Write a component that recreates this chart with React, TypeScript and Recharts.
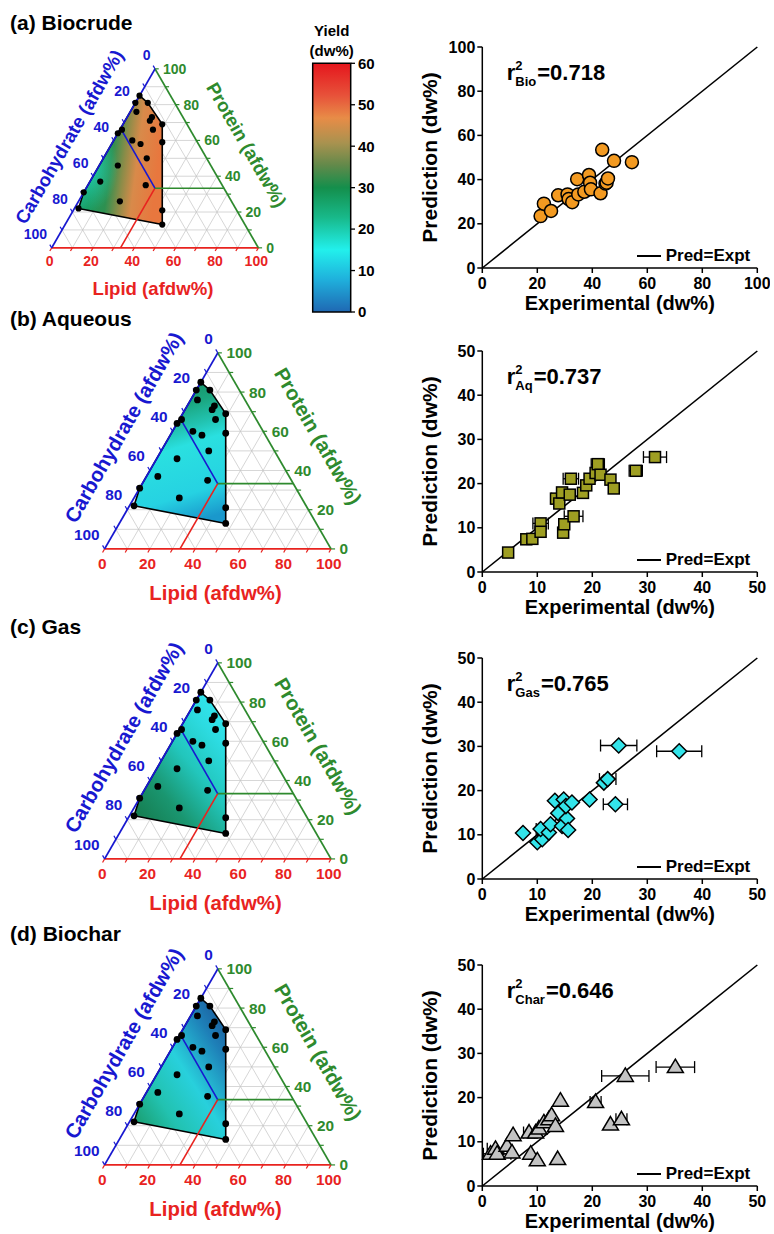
import React from 'react';
import { ScatterChart, Scatter, XAxis, YAxis, ErrorBar, Legend, BarChart, Bar } from 'recharts';

const FONT = "Arial, 'Liberation Sans', Helvetica, sans-serif";
const RED = '#e8231f';
const BLUE = '#1818d0';
const GREEN = '#2e8a2e';
const GRID = '#c4c4c4';

// feedstock compositions (afdw%), same design points in every ternary plot
const lipidPct = [0, 6, 0, 3, 12, 12, 19, 16, 1, 0, 9, 14, 24, 21, 9, 5, 28, 0, 20, 2, 43, 47];
const proteinPct = [85, 81, 81, 76, 73, 71, 69, 66, 66, 64, 60, 58, 59, 50, 46, 37, 35, 31, 26, 22, 21, 13];
const carbPct = [15, 13, 19, 21, 15, 17, 12, 18, 33, 36, 31, 28, 17, 29, 45, 58, 37, 69, 54, 76, 36, 40];
// outline of the explored composition space (indices into the lists above)
const hullOrder = [0, 1, 6, 12, 20, 21, 19, 17, 9, 2];
const ternLabels = [0, 20, 40, 60, 80, 100];
const ternGrid = [10, 20, 30, 40, 50, 60, 70, 80, 90];
const ternTicks = [0, 10, 20, 30, 40, 50, 60, 70, 80, 90, 100];
const splitPct = 33.3;

// parity plots: experimental vs predicted yield (dw%)
const bioExp = [21.2, 22.4, 25.0, 27.6, 31.0, 31.4, 32.7, 34.5, 34.9, 37.1, 38.8, 39.2, 39.5, 43.0, 43.6, 44.8, 45.2, 45.7, 47.9, 54.4];
const bioPred = [23.5, 29.1, 25.8, 32.9, 33.3, 31.2, 29.8, 40.2, 33.3, 34.5, 42.1, 38.6, 35.6, 33.8, 53.5, 38.2, 38.6, 40.5, 48.5, 47.9];

const aqExp = [4.7, 8.0, 9.1, 10.6, 10.6, 13.4, 14.0, 14.5, 14.7, 14.9, 16.1, 15.9, 16.6, 18.3, 18.9, 19.5, 20.6, 21.0, 21.5, 23.3, 23.9, 27.9, 31.4];
const aqPred = [4.4, 7.4, 7.5, 11.0, 9.1, 16.6, 15.5, 18.0, 8.9, 10.8, 21.1, 17.5, 12.6, 17.9, 19.6, 21.1, 22.4, 24.4, 22.0, 20.9, 18.9, 22.9, 26.0];
const aqErr = [0, 0, 0, 1.4, 0, 0.8, 0, 0, 0, 0, 1.4, 0, 1.7, 0, 0, 0, 0, 1.2, 0, 0, 0, 1.2, 2.1];

const gasExp = [7.4, 10.0, 10.9, 10.6, 12.1, 12.4, 13.2, 13.8, 14.5, 14.8, 15.4, 15.6, 15.2, 16.3, 19.5, 22.1, 22.8, 24.2, 24.8, 35.8];
const gasPred = [10.4, 8.3, 9.0, 11.3, 10.5, 12.4, 17.7, 14.9, 12.0, 18.0, 13.7, 11.1, 16.5, 17.3, 18.0, 21.8, 22.6, 16.9, 30.2, 28.9];
const gasErr = [0, 0, 0, 0.8, 0, 0, 0, 0, 0, 0, 0, 0, 0, 0, 0, 0, 1.5, 2.2, 3.3, 4.1];

const charExp = [1.5, 2.4, 2.7, 4.5, 5.4, 5.6, 8.5, 8.8, 10.0, 9.7, 10.3, 11.2, 12.1, 12.6, 13.3, 13.7, 14.2, 20.6, 23.3, 25.3, 26.0, 35.1];
const charPred = [7.3, 8.4, 7.3, 9.1, 7.6, 11.5, 12.1, 7.3, 5.8, 12.1, 13.0, 14.4, 15.1, 16.0, 13.6, 6.1, 19.3, 19.0, 13.9, 15.1, 24.9, 26.9];
const charErr = [0, 1.5, 2.5, 0, 0, 0, 1.0, 0, 0, 0, 0, 0, 0, 0, 0, 0, 0, 1.0, 0, 1.0, 4.3, 3.5];

const ticks100 = [0, 20, 40, 60, 80, 100];
const ticks50 = [0, 10, 20, 30, 40, 50];

// colour scale
const yieldTicks = [0, 10, 20, 30, 40, 50, 60];
const yieldScale = [{ name: 'Yield', top: 60 }];

type Pt = { x: number; y: number };
type Grad = { x1: number; y1: number; x2: number; y2: number; stops: [number, string][]; spot?: { cx: number; cy: number; r: number; color: string } };

const H = Math.sqrt(3) / 2;
const tern = (l: number, p: number): Pt => ({ x: l + p / 2, y: p * H });

const noShape = () => <g />;

const drawSegments = (colors: string[], width: number) => (lp: any) => {
  const pts = lp.points || [];
  const out: any[] = [];
  for (let k = 0; k + 1 < pts.length; k += 2) {
    out.push(
      <line key={k} x1={pts[k].x} y1={pts[k].y} x2={pts[k + 1].x} y2={pts[k + 1].y}
        stroke={colors[k / 2]} strokeWidth={width} />
    );
  }
  return <g>{out}</g>;
};

const drawHull = (id: string, g: Grad) => (lp: any) => {
  const pts = (lp.points || []).map((q: Pt) => `${q.x},${q.y}`).join(' ');
  return (
    <g>
      <defs>
        <linearGradient id={`${id}-lin`} x1={g.x1} y1={g.y1} x2={g.x2} y2={g.y2}>
          {g.stops.map(([o, c], i) => <stop key={i} offset={o} stopColor={c} />)}
        </linearGradient>
        {g.spot && (
          <radialGradient id={`${id}-spot`} cx={g.spot.cx} cy={g.spot.cy} r={g.spot.r}>
            <stop offset={0} stopColor={g.spot.color} stopOpacity={0.9} />
            <stop offset={1} stopColor={g.spot.color} stopOpacity={0} />
          </radialGradient>
        )}
      </defs>
      <polygon points={pts} fill={`url(#${id}-lin)`} />
      {g.spot && <polygon points={pts} fill={`url(#${id}-spot)`} />}
      <polygon points={pts} fill="none" stroke="#000" strokeWidth={1.6} strokeLinejoin="round" />
    </g>
  );
};

const LabelShape = (p: any) => {
  const d = p.payload;
  return (
    <text x={p.cx} y={p.cy} fill={d.fill} fontSize={d.size} fontWeight="bold" textAnchor={d.anchor}
      dominantBaseline="central" fontFamily={FONT}
      transform={d.angle ? `rotate(${d.angle} ${p.cx} ${p.cy})` : undefined}>
      {d.text}
    </text>
  );
};

type Seg = { a: Pt; b: Pt; color: string };
const flat = (list: Seg[]) => ({ data: list.flatMap((s) => [s.a, s.b]), colors: list.map((s) => s.color) });
const off = (p: Pt, dx: number, dy: number): Pt => ({ x: p.x + dx, y: p.y + dy });

function Ternary({ blx, bly, s, id, grad }: { blx: number; bly: number; s: number; id: string; grad: Grad }) {
  const X0 = -25, X1 = 125, Y0 = -28, Y1 = 102;
  const width = (X1 - X0) * s;
  const height = (Y1 - Y0) * s;
  const fs = 6.8 * s;
  const ts = 9 * s;

  const feed = lipidPct.map((l, i) => ({ ...tern(l, proteinPct[i]), carb: carbPct[i] }));
  const hull = hullOrder.map((i) => feed[i]);

  const grid = flat(ternGrid.flatMap((k) => [
    { a: tern(k, 0), b: tern(k, 100 - k), color: GRID },
    { a: tern(0, k), b: tern(100 - k, k), color: GRID },
    { a: tern(0, 100 - k), b: tern(100 - k, 0), color: GRID },
  ]));
  const edges = flat([
    { a: tern(0, 0), b: tern(100, 0), color: RED },
    { a: tern(100, 0), b: tern(0, 100), color: GREEN },
    { a: tern(0, 100), b: tern(0, 0), color: BLUE },
  ]);
  const t = 1.8;
  const ticks = flat(ternTicks.flatMap((k) => [
    { a: tern(k, 0), b: off(tern(k, 0), -0.5 * t, -H * t), color: RED },
    { a: tern(100 - k, k), b: off(tern(100 - k, k), t, 0), color: GREEN },
    { a: tern(0, 100 - k), b: off(tern(0, 100 - k), -0.5 * t, H * t), color: BLUE },
  ]));
  const split = flat([
    { a: tern(splitPct, 0), b: tern(splitPct, splitPct), color: RED },
    { a: tern(splitPct, splitPct), b: tern(0, 100 - splitPct), color: BLUE },
    { a: tern(splitPct, splitPct), b: tern(100 - splitPct, splitPct), color: GREEN },
  ]);

  const labels: any[] = [];
  ternLabels.forEach((v) => {
    labels.push({ ...off(tern(v, 0), -1, -6.3), text: String(v), fill: RED, anchor: 'middle', size: fs });
    labels.push({ ...off(tern(100 - v, v), 3.8, 0), text: String(v), fill: GREEN, anchor: 'start', size: fs });
    labels.push({ ...off(tern(0, 100 - v), -2.2, 6.5), text: String(v), fill: BLUE, anchor: 'end', size: fs });
  });
  labels.push({ x: 49, y: -19.5, text: 'Lipid (afdw%)', fill: RED, anchor: 'middle', size: ts });
  labels.push({ x: 8.5, y: 53.7, text: 'Carbohydrate (afdw%)', fill: BLUE, anchor: 'middle', size: ts, angle: -60 });
  labels.push({ x: 94.3, y: 49.8, text: 'Protein (afdw%)', fill: GREEN, anchor: 'middle', size: ts, angle: 60 });

  const r = 1.5 * s;
  return (
    <div style={{ position: 'absolute', left: blx + X0 * s, top: bly - Y1 * s }}>
      <ScatterChart width={width} height={height} margin={{ top: 0, right: 0, bottom: 0, left: 0 }}>
        <XAxis type="number" dataKey="x" domain={[X0, X1]} hide />
        <YAxis type="number" dataKey="y" domain={[Y0, Y1]} hide />
        <Scatter data={grid.data} shape={noShape} line={drawSegments(grid.colors, 0.7)} legendType="none" isAnimationActive={false} />
        <Scatter data={hull} shape={noShape} line={drawHull(id, grad)} legendType="none" isAnimationActive={false} />
        <Scatter data={split.data} shape={noShape} line={drawSegments(split.colors, 1.6)} legendType="none" isAnimationActive={false} />
        <Scatter data={edges.data} shape={noShape} line={drawSegments(edges.colors, 1.8)} legendType="none" isAnimationActive={false} />
        <Scatter data={ticks.data} shape={noShape} line={drawSegments(ticks.colors, 1.2)} legendType="none" isAnimationActive={false} />
        <Scatter data={feed} legendType="none" isAnimationActive={false}
          shape={(p: any) => <circle cx={p.cx} cy={p.cy} r={r} fill="#000" />} />
        <Scatter data={labels} shape={LabelShape} legendType="none" isAnimationActive={false} />
      </ScatterChart>
    </div>
  );
}

const circleMark = (fill: string) => (p: any) => <circle cx={p.cx} cy={p.cy} r={6.5} fill={fill} stroke="#000" strokeWidth={1.5} />;
const squareMark = (fill: string) => (p: any) => <rect x={p.cx - 5.5} y={p.cy - 5.5} width={11} height={11} fill={fill} stroke="#000" strokeWidth={1.5} />;
const diamondMark = (fill: string) => (p: any) => (
  <path d={`M${p.cx},${p.cy - 7.5}L${p.cx + 7.5},${p.cy}L${p.cx},${p.cy + 7.5}L${p.cx - 7.5},${p.cy}Z`} fill={fill} stroke="#000" strokeWidth={1.5} />
);
const triangleMark = (fill: string) => (p: any) => (
  <path d={`M${p.cx},${p.cy - 8}L${p.cx + 8},${p.cy + 5.5}L${p.cx - 8},${p.cy + 5.5}Z`} fill={fill} stroke="#000" strokeWidth={1.5} />
);

const legendContent = (props: any) => (
  <div style={{ fontFamily: FONT }}>
    {(props.payload || []).filter((e: any) => e.type !== 'none' && e.value).map((e: any, i: number) => (
      <div key={i} style={{ display: 'flex', alignItems: 'center', height: 20, fontWeight: 'bold', fontSize: 17, color: '#000', whiteSpace: 'nowrap' }}>
        <svg width={24} height={4} style={{ marginRight: 5 }}>
          <line x1={0} y1={2} x2={24} y2={2} stroke="#000" strokeWidth={2} />
        </svg>
        {e.value}
      </div>
    ))}
  </div>
);

function Parity({ plotTop, max, ticks, exp, pred, err, mark, sub, r2 }: {
  plotTop: number; max: number; ticks: number[]; exp: number[]; pred: number[]; err?: number[];
  mark: (p: any) => any; sub: string; r2: string;
}) {
  const data = exp.map((x, i) => ({ x, y: pred[i], err: err ? err[i] : 0 }));
  const diag = [{ x: 0, y: 0 }, { x: max, y: max }];
  const axisStyle = { stroke: '#000', strokeWidth: 1.5 };
  const tickStyle = { fill: '#000', fontSize: 16, fontWeight: 'bold', fontFamily: FONT };
  const titleStyle = { fill: '#000', fontSize: 20, fontWeight: 'bold', fontFamily: FONT };
  return (
    <div style={{ position: 'absolute', left: 360, top: plotTop - 20 }}>
      <ScatterChart width={410} height={311} margin={{ top: 20, right: 12.7, bottom: 0, left: 17.7 }}>
        <XAxis type="number" dataKey="x" domain={[0, max]} ticks={ticks} height={70}
          tickSize={5} tickMargin={5} axisLine={axisStyle} tickLine={axisStyle} tick={tickStyle}
          label={{ value: 'Experimental (dw%)', position: 'center', ...titleStyle }} />
        <YAxis type="number" dataKey="y" domain={[0, max]} ticks={ticks} width={104.6}
          tickSize={5} tickMargin={2} axisLine={axisStyle} tickLine={axisStyle} tick={tickStyle}
          label={{ value: 'Prediction (dw%)', angle: -90, position: 'center', ...titleStyle, fontSize: 21 }} />
        <Scatter name="Pred=Expt" data={diag} fill="#000" shape={noShape}
          line={{ stroke: '#000', strokeWidth: 1.6 }} legendType="line" isAnimationActive={false} />
        <Scatter data={data} shape={mark} legendType="none" isAnimationActive={false}>
          {err && <ErrorBar dataKey="err" direction="x" width={6} stroke="#000" strokeWidth={1.3} />}
        </Scatter>
        <Legend layout="vertical" align="center" verticalAlign="middle" content={legendContent}
          wrapperStyle={{ left: 276.7, top: 219, width: 'auto' }} />
        <text x={146.7} y={53} fontFamily={FONT} fontWeight="bold" fill="#000" fontSize={22}>
          r
          <tspan dy={-10} fontSize={13}>2</tspan>
          <tspan dx={-7.2} dy={16} fontSize={13}>{sub}</tspan>
          <tspan dx={1} dy={-6} fontSize={22}>{r2}</tspan>
        </text>
      </ScatterChart>
    </div>
  );
}

function ColorScale() {
  return (
    <div style={{ position: 'absolute', left: 305, top: 0 }}>
      <BarChart width={80} height={322} data={yieldScale} margin={{ top: 63.3, right: 0, bottom: 10, left: 7.7 }} barCategoryGap={0}>
        <defs>
          <linearGradient id="yieldGrad" x1={0} y1={0} x2={0} y2={1}>
            <stop offset={0} stopColor="#e5161d" />
            <stop offset={0.13} stopColor="#e7523a" />
            <stop offset={0.22} stopColor="#e88c47" />
            <stop offset={0.32} stopColor="#a9924f" />
            <stop offset={0.41} stopColor="#62894a" />
            <stop offset={0.5} stopColor="#148f4c" />
            <stop offset={0.62} stopColor="#18b98a" />
            <stop offset={0.75} stopColor="#22f0ec" />
            <stop offset={0.87} stopColor="#1fb0dc" />
            <stop offset={1} stopColor="#1f68b3" />
          </linearGradient>
        </defs>
        <XAxis dataKey="name" hide />
        <YAxis orientation="right" width={34} domain={[0, 60]} ticks={yieldTicks} tickSize={4} tickMargin={3}
          axisLine={false} tickLine={{ stroke: '#000', strokeWidth: 1.3 }}
          tick={{ fill: '#000', fontSize: 15, fontWeight: 'bold', fontFamily: FONT }} />
        <Bar dataKey="top" fill="url(#yieldGrad)" stroke="#000" strokeWidth={1.5} isAnimationActive={false} />
        <text x={26.7} y={36} textAnchor="middle" fontFamily={FONT} fontWeight="bold" fontSize={15} fill="#000">Yield</text>
        <text x={26.7} y={56} textAnchor="middle" fontFamily={FONT} fontWeight="bold" fontSize={15} fill="#000">(dw%)</text>
      </BarChart>
    </div>
  );
}

const bioGrad: Grad = {
  x1: 0, y1: 0.1, x2: 1, y2: 0.3,
  stops: [[0, '#1bb894'], [0.25, '#1a9a5e'], [0.45, '#2e9050'], [0.6, '#8a8c48'], [0.75, '#d88a4a'], [1, '#e8773e']],
  spot: { cx: 0.12, cy: 0.55, r: 0.35, color: '#22d6bb' },
};
const aqGrad: Grad = {
  x1: 0.4, y1: 0, x2: 0.6, y2: 1,
  stops: [[0, '#168e62'], [0.18, '#1aa57e'], [0.34, '#22c4b2'], [0.46, '#2ae0e0'], [0.8, '#26d2e2'], [1, '#1a98cc']],
};
const gasGrad: Grad = {
  x1: 0.1, y1: 1, x2: 0.9, y2: 0,
  stops: [[0, '#15784a'], [0.28, '#1a9670'], [0.55, '#22c6bc'], [0.8, '#2ddce2'], [1, '#33e8f0']],
};
const charGrad: Grad = {
  x1: 1, y1: 0, x2: 0, y2: 1,
  stops: [[0, '#1a4f92'], [0.22, '#1e80b8'], [0.48, '#28d0dc'], [0.72, '#22c2b0'], [1, '#17935c']],
};

const titleCss: React.CSSProperties = { position: 'absolute', left: 10, fontFamily: FONT, fontWeight: 'bold', fontSize: 21, lineHeight: '21px', color: '#000', whiteSpace: 'nowrap' };

export default function App() {
  return (
    <div style={{ position: 'absolute', left: 0, top: 0, width: 774, height: 1234, background: '#fff', fontFamily: FONT, overflow: 'hidden' }}>
      <div style={{ ...titleCss, top: 12 }}>(a) Biocrude</div>
      <div style={{ ...titleCss, top: 308 }}>(b) Aqueous</div>
      <div style={{ ...titleCss, top: 616 }}>(c) Gas</div>
      <div style={{ ...titleCss, top: 923 }}>(d) Biochar</div>

      <Ternary blx={51.7} bly={247.7} s={2.067} id="tBio" grad={bioGrad} />
      <Ternary blx={104.3} bly={549.3} s={2.264} id="tAq" grad={aqGrad} />
      <Ternary blx={104.5} bly={859.3} s={2.264} id="tGas" grad={gasGrad} />
      <Ternary blx={104.5} bly={1165} s={2.264} id="tChar" grad={charGrad} />
      <ColorScale />

      <Parity plotTop={46.7} max={100} ticks={ticks100} exp={bioExp} pred={bioPred} mark={circleMark('#f39a21')} sub="Bio" r2="=0.718" />
      <Parity plotTop={351} max={50} ticks={ticks50} exp={aqExp} pred={aqPred} err={aqErr} mark={squareMark('#9e9e22')} sub="Aq" r2="=0.737" />
      <Parity plotTop={658.3} max={50} ticks={ticks50} exp={gasExp} pred={gasPred} err={gasErr} mark={diamondMark('#33e4ea')} sub="Gas" r2="=0.765" />
      <Parity plotTop={965} max={50} ticks={ticks50} exp={charExp} pred={charPred} err={charErr} mark={triangleMark('#c3c3c3')} sub="Char" r2="=0.646" />
    </div>
  );
}
